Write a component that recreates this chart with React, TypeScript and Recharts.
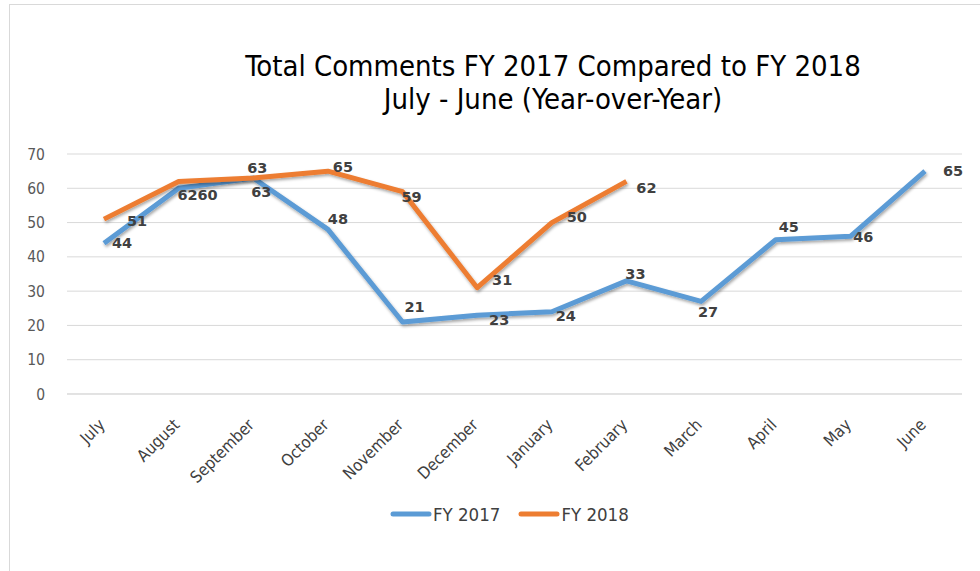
import React from "react";
import { LineChart, Line, XAxis, YAxis, CartesianGrid, LabelList } from "recharts";

const months = ["July", "August", "September", "October", "November", "December", "January", "February", "March", "April", "May", "June"];
const fy2017 = [44, 60, 63, 48, 21, 23, 24, 33, 27, 45, 46, 65];
const fy2018 = [51, 62, 63, 65, 59, 31, 50, 62];
const yTicks = [0, 10, 20, 30, 40, 50, 60, 70];

const label2017Offsets = [[18, 0], [29, 7], [8, 14], [10, -10], [12, -15], [22, 5], [14, 4], [9, -7], [7, 11], [13, -13], [13, 1], [28, 0]];
const label2018Offsets = [[33, 2], [9, 14], [4, -10], [15, -4], [9, 5], [25, -8], [25, -6], [20, 7]];

const data = months.map((m, i) => ({
  month: m,
  fy2017: fy2017[i],
  fy2018: i < fy2018.length ? fy2018[i] : null,
}));

const BLUE = "#5B9BD5";
const ORANGE = "#ED7D31";
const FONT = "'DejaVu Sans Condensed', 'DejaVu Sans', sans-serif";

const makeLabel = (offsets: number[][]) => (props: any) => {
  const { x, y, value, index } = props;
  if (value == null || x == null || y == null) return null;
  const off = offsets[index] || [10, 0];
  return (
    <text
      x={x + off[0]}
      y={y + off[1]}
      textAnchor="middle"
      dominantBaseline="central"
      fontFamily="'DejaVu Sans', sans-serif"
      fontWeight="bold"
      fontSize={14.5}
      fill="#404040"
    >
      {value}
    </text>
  );
};

const XTick = (props: any) => {
  const { x, y, payload } = props;
  return (
    <text
      transform={`translate(${x - 2},${y + 20}) rotate(-45)`}
      textAnchor="end"
      dominantBaseline="central"
      fontFamily={FONT}
      fontSize={16.5}
      fill="#404040"
    >
      {payload.value}
    </text>
  );
};

const legendItems = [
  { name: "FY 2017", color: BLUE },
  { name: "FY 2018", color: ORANGE },
];

export default function App() {
  return (
    <div style={{ position: "absolute", left: 0, top: 0, width: 980, height: 571, background: "#fff", overflow: "hidden" }}>
      <div style={{ position: "absolute", left: 9, top: 4, width: 990, height: 600, border: "1px solid #d9d9d9", boxSizing: "border-box" }} />
      <div
        style={{
          position: "absolute",
          left: 0,
          top: 50,
          width: 1106,
          textAlign: "center",
          fontFamily: FONT,
          fontSize: 29,
          lineHeight: "33px",
          color: "#000",
        }}
      >
        <div>Total Comments FY 2017 Compared to FY 2018</div>
        <div>July - June (Year-over-Year)</div>
      </div>
      <div style={{ position: "absolute", left: 0, top: 0 }}>
        <LineChart width={980} height={571} data={data} margin={{ top: 154, right: 18, left: 17, bottom: 97 }}>
          <defs>
            <filter id="shadow" x="-10%" y="-10%" width="120%" height="130%">
              <feDropShadow dx="1" dy="2" stdDeviation="1.5" floodColor="#000" floodOpacity="0.35" />
            </filter>
          </defs>
          <CartesianGrid vertical={false} stroke="#d9d9d9" strokeWidth={1} />
          <XAxis
            dataKey="month"
            tick={<XTick />}
            tickLine={false}
            axisLine={{ stroke: "#d9d9d9", strokeWidth: 1 }}
            interval={0}
            height={80}
            padding={{ left: 37, right: 37 }}
          />
          <YAxis
            domain={[0, 70]}
            ticks={yTicks}
            tickLine={false}
            axisLine={false}
            width={50}
            tick={{ fontFamily: FONT, fontSize: 15.5, fill: "#595959" }}
            tickMargin={16}
          />
          <Line
            type="linear"
            dataKey="fy2017"
            stroke={BLUE}
            strokeWidth={5}
            dot={false}
            activeDot={false}
            isAnimationActive={false}
            strokeLinejoin="round"
            filter="url(#shadow)"
          >
            <LabelList dataKey="fy2017" content={makeLabel(label2017Offsets)} />
          </Line>
          <Line
            type="linear"
            dataKey="fy2018"
            stroke={ORANGE}
            strokeWidth={5}
            dot={false}
            activeDot={false}
            isAnimationActive={false}
            strokeLinejoin="round"
            filter="url(#shadow)"
          >
            <LabelList dataKey="fy2018" content={makeLabel(label2018Offsets)} />
          </Line>
        </LineChart>
      </div>
      <div
        style={{
          position: "absolute",
          left: 390,
          top: 502,
          display: "flex",
          alignItems: "center",
          fontFamily: FONT,
          fontSize: 18.5,
          color: "#404040",
          height: 24,
        }}
      >
        {legendItems.map((it) => (
          <div key={it.name} style={{ display: "flex", alignItems: "center", marginRight: 18 }}>
            <svg width={42} height={10}>
              <line x1={3} y1={5} x2={39} y2={5} stroke={it.color} strokeWidth={5} strokeLinecap="round" />
            </svg>
            <span style={{ marginLeft: 1 }}>{it.name}</span>
          </div>
        ))}
      </div>
    </div>
  );
}
